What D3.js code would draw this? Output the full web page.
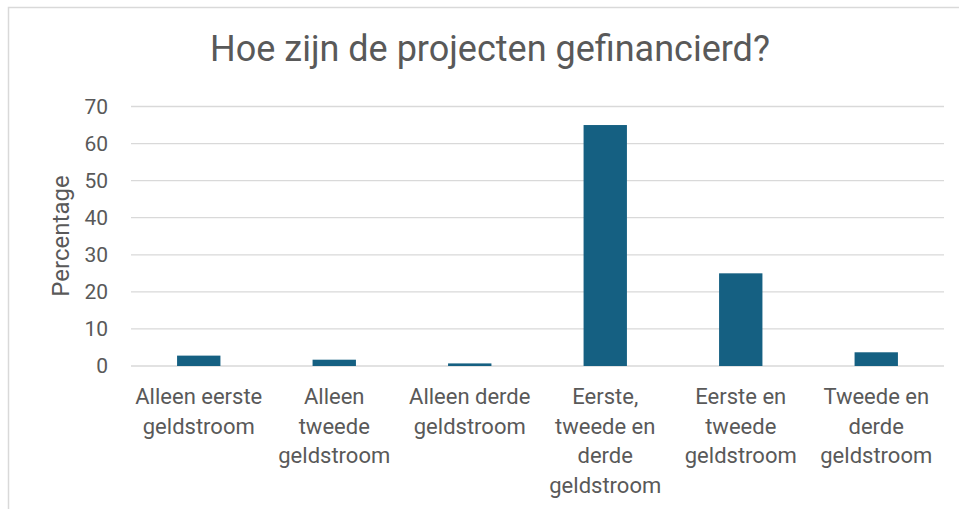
<html>
<head>
  <script src="https://d3js.org/d3.v7.min.js"></script>
  <style>
    body { margin: 0; background: #fff; }
    text { font-family: Roboto, "Liberation Sans", sans-serif; fill: #595959; }
  </style>
</head>
<body>
  <script>
    var categories = ["Alleen eerste geldstroom", "Alleen tweede geldstroom", "Alleen derde geldstroom",
      "Eerste, tweede en derde geldstroom", "Eerste en tweede geldstroom", "Tweede en derde geldstroom"];
    var labelLines = [
      ["Alleen eerste", "geldstroom"],
      ["Alleen", "tweede", "geldstroom"],
      ["Alleen derde", "geldstroom"],
      ["Eerste,", "tweede en", "derde", "geldstroom"],
      ["Eerste en", "tweede", "geldstroom"],
      ["Tweede en", "derde", "geldstroom"]
    ];
    var values = [2.8, 1.7, 0.7, 65, 25, 3.7];
    var yTicks = [0, 10, 20, 30, 40, 50, 60, 70];

    var width = 959, height = 509;

    var svg = d3.select("body").append("svg")
      .attr("width", width)
      .attr("height", height);

    // chart area border (top and left visible only)
    svg.append("path")
      .attr("d", "M8.5,509 L8.5,7.5 L959,7.5")
      .attr("fill", "none")
      .attr("stroke", "#d9d9d9")
      .attr("stroke-width", 1.5);

    var x = d3.scaleBand()
      .domain(categories)
      .range([131, 944])
      .paddingInner(0.68)
      .paddingOuter(0.34);

    var y = d3.scaleLinear()
      .domain([0, 70])
      .range([366, 106.5]);

    // gridlines
    svg.append("g").selectAll("line")
      .data(yTicks)
      .enter().append("line")
      .attr("x1", 131).attr("x2", 944)
      .attr("y1", function(d){ return y(d); })
      .attr("y2", function(d){ return y(d); })
      .attr("stroke", "#d9d9d9")
      .attr("stroke-width", 1.3);

    // y tick labels
    var yAxis = svg.append("g")
      .attr("transform", "translate(108,0)")
      .call(d3.axisLeft(y).tickValues(yTicks).tickSize(0).tickPadding(0));
    yAxis.select(".domain").remove();
    yAxis.selectAll("text")
      .style("font-size", "21px")
      .attr("fill", "#595959");

    // bars
    svg.append("g").selectAll("rect")
      .data(values)
      .enter().append("rect")
      .attr("x", function(d, i){ return x(categories[i]); })
      .attr("width", x.bandwidth())
      .attr("y", function(d){ return y(d); })
      .attr("height", function(d){ return y(0) - y(d); })
      .attr("fill", "#156082");

    // category labels
    var xl = svg.append("g");
    categories.forEach(function(c, i){
      var t = xl.append("text")
        .attr("text-anchor", "middle")
        .attr("x", x(c) + x.bandwidth() / 2)
        .attr("y", 404)
        .style("font-size", "22px");
      labelLines[i].forEach(function(line, j){
        t.append("tspan")
          .attr("x", x(c) + x.bandwidth() / 2)
          .attr("dy", j === 0 ? 0 : 29.5)
          .text(line);
      });
    });

    // y axis title
    svg.append("text")
      .attr("transform", "translate(69,236) rotate(-90)")
      .attr("text-anchor", "middle")
      .style("font-size", "24px")
      .text("Percentage");

    // chart title
    svg.append("text")
      .attr("x", 490)
      .attr("y", 61)
      .attr("text-anchor", "middle")
      .style("font-size", "36px")
      .text("Hoe zijn de projecten gefinancierd?");
  </script>
</body>
</html>
